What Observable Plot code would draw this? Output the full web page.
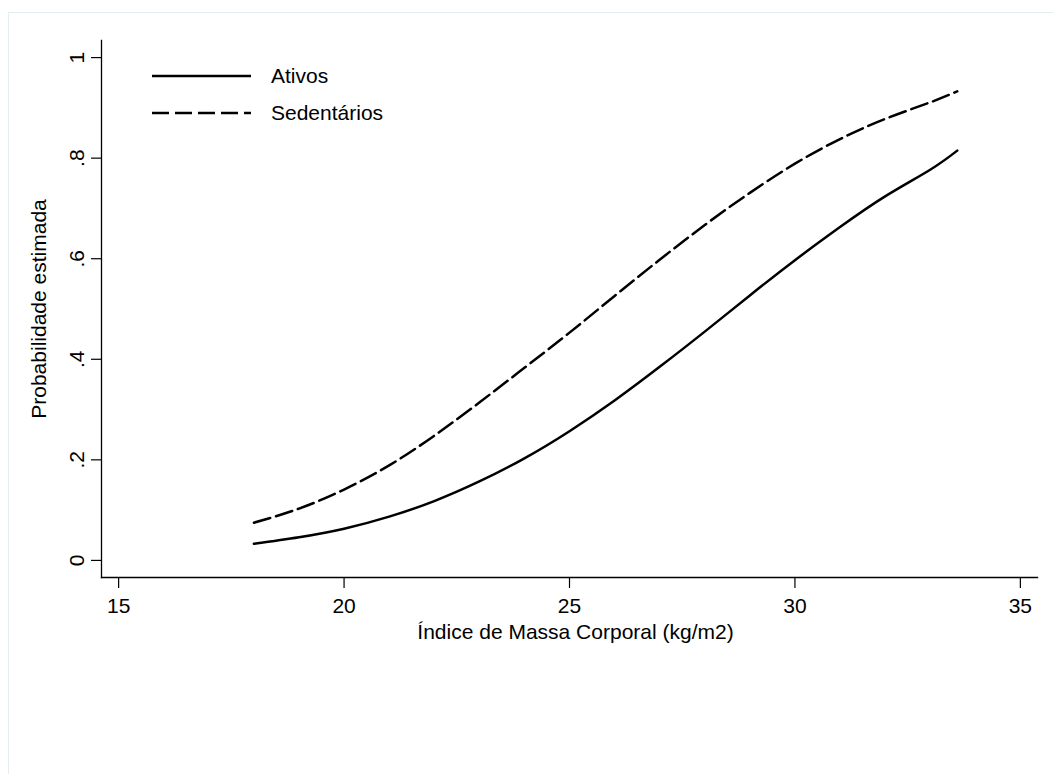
<!DOCTYPE html>
<html><head><meta charset="utf-8">
<script src="https://cdn.jsdelivr.net/npm/d3@7"></script>
<script src="https://cdn.jsdelivr.net/npm/@observablehq/plot@0.6"></script>
<style>
html,body{margin:0;padding:0;background:#fff;}
#wrap{position:relative;width:1053px;height:774px;overflow:hidden;background:#fff;}
#border{position:absolute;left:8px;top:12px;width:2000px;height:2000px;border-left:1.5px solid #e4eef0;border-top:1.5px solid #e4eef0;}
#chart{position:absolute;left:0;top:0;}
</style></head>
<body><div id="wrap"><div id="border"></div><div id="chart"></div></div>
<script>
// Data
const bmi         = [18, 19, 20, 21, 22, 23, 24, 25, 26, 27, 28, 29, 30, 31, 32, 33, 33.6];
const ativos      = [0.033, 0.046, 0.063, 0.087, 0.118, 0.157, 0.203, 0.257, 0.318, 0.385, 0.455, 0.527, 0.597, 0.663, 0.724, 0.777, 0.815];
const sedentarios = [0.075, 0.103, 0.141, 0.189, 0.248, 0.314, 0.383, 0.453, 0.526, 0.598, 0.667, 0.731, 0.789, 0.838, 0.878, 0.911, 0.933];
const seriesNames = ["Ativos", "Sedentários"];
const xTicks = [15, 20, 25, 30, 35];
const yTicks = [0, 0.2, 0.4, 0.6, 0.8, 1];
const yTickLabels = ["0", ".2", ".4", ".6", ".8", "1"];
const xTitle = "Índice de Massa Corporal (kg/m2)";
const yTitle = "Probabilidade estimada";

const rows = [];
bmi.forEach((x, i) => {
  rows.push({bmi: x, p: ativos[i], grupo: seriesNames[0]});
  rows.push({bmi: x, p: sedentarios[i], grupo: seriesNames[1]});
});

const FONT = "'Liberation Sans', Arial, Helvetica, sans-serif";
const FS = 21;
const DASH = "17,6";
const SW = 2.5;
const W = 1053, H = 774;
const mL = 101, mR = 16, mT = 40, mB = 197;

const chart = Plot.plot({
  width: W, height: H,
  marginLeft: mL, marginRight: mR, marginTop: mT, marginBottom: mB,
  style: {fontFamily: FONT, fontSize: FS + "px", background: "transparent", color: "#000"},
  x: {domain: [14.62, 35.38]},
  y: {domain: [-0.034, 1.034]},
  marks: [
    Plot.frame({anchor: "bottom", stroke: "#000", strokeWidth: 1.3}),
    Plot.frame({anchor: "left", stroke: "#000", strokeWidth: 1.3}),
    Plot.axisX(xTicks, {tickSize: 11, tickPadding: 10, fontSize: FS, label: null, stroke: "#000", strokeWidth: 1.2}),
    Plot.axisY(yTicks, {tickSize: 10, tickPadding: 8, tickRotate: -90, fontSize: FS, label: null,
      tickFormat: d => yTickLabels[yTicks.indexOf(d)], stroke: "#000", strokeWidth: 1.2}),
    Plot.text([xTitle], {text: d => d, frameAnchor: "bottom", textAnchor: "middle", dy: 61, dx: 6, lineAnchor: "bottom", fontSize: FS, fill: "#000"}),
    Plot.text([yTitle], {text: d => d, frameAnchor: "left", textAnchor: "middle", rotate: -90, dx: -56, lineAnchor: "bottom", fontSize: FS, fill: "#000"}),
    Plot.line(rows, {filter: d => d.grupo === seriesNames[0], x: "bmi", y: "p", stroke: "#000", strokeWidth: SW, curve: "natural"}),
    Plot.line(rows, {filter: d => d.grupo === seriesNames[1], x: "bmi", y: "p", stroke: "#000", strokeWidth: SW, curve: "natural", strokeDasharray: DASH})
  ]
});

// Legend inside the plot frame (upper-left), positioned relative to the frame
const svg = d3.select(chart);
const lg = svg.append("g").attr("transform", `translate(${mL + 51},${mT + 36})`);
seriesNames.forEach((name, i) => {
  const y = i * 37;
  lg.append("line").attr("x1", 0).attr("x2", 99).attr("y1", y).attr("y2", y)
    .attr("stroke", "#000").attr("stroke-width", SW)
    .attr("stroke-dasharray", i === 1 ? DASH : null);
  lg.append("text").attr("x", 119).attr("y", y).attr("dy", "0.35em")
    .attr("text-anchor", "start")
    .attr("font-family", FONT).attr("font-size", FS).attr("fill", "#000").text(name);
});

document.getElementById("chart").appendChild(chart);
</script>
</body></html>
